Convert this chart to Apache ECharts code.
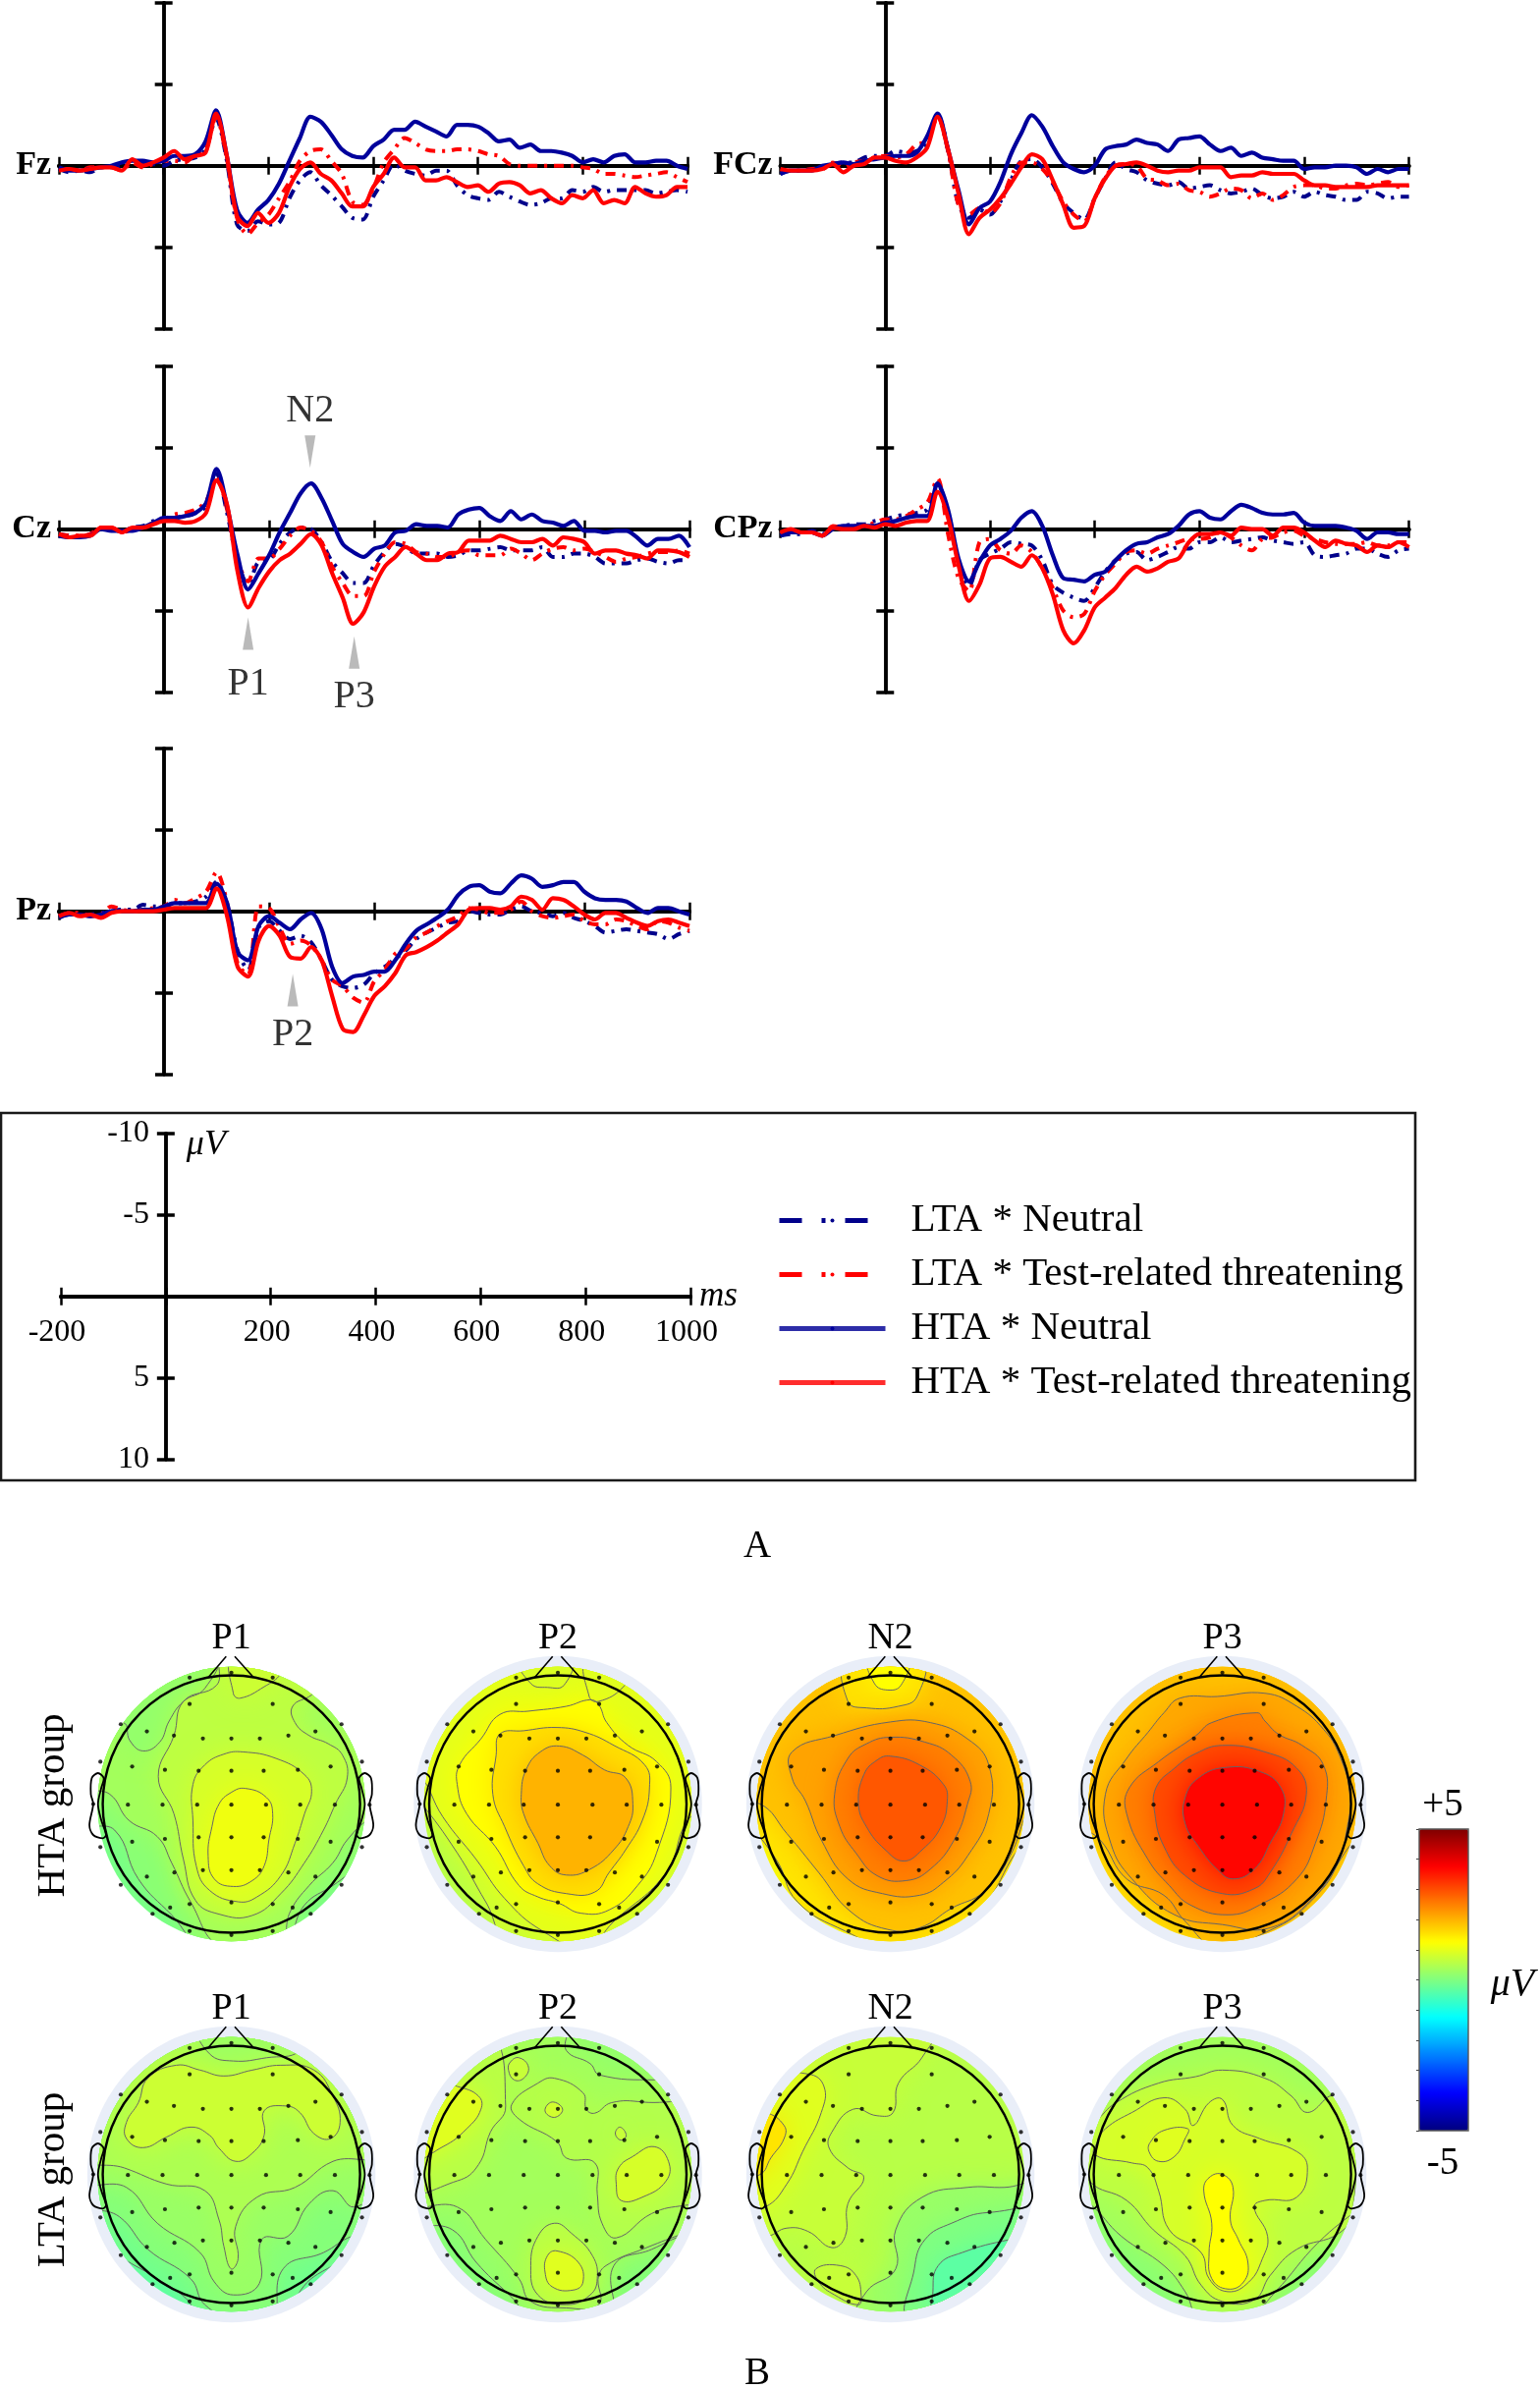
<!DOCTYPE html>
<html>
<head>
<meta charset="utf-8">
<style>html,body{margin:0;padding:0;background:#fff}#main{width:1568px;height:2432px}</style>
<script src="https://cdn.jsdelivr.net/npm/echarts@6/dist/echarts.min.js"></script>
</head>
<body>
<div id="main"></div>
<script>
// ERP waveforms, uV, one value every 20 ms (negative is up)
var times = [-200,-180,-160,-140,-120,-100,-80,-60,-40,-20,
  0,20,40,60,80,100,120,140,160,180,
  200,220,240,260,280,300,320,340,360,380,
  400,420,440,460,480,500,520,540,560,580,
  600,620,640,660,680,700,720,740,760,780,
  800,820,840,860,880,900,920,940,960,980,
  1000];

var fzLtaNeutral = [0.2,0.4,0.3,0.4,0.1,0.1,0,-0.2,-0.2,-0.1,
  0,-0.3,-0.4,-0.5,-1.0,-2.9,-0.4,3.6,4.0,3.4,
  3.6,3.5,2.0,0.9,0.4,1.2,1.8,2.5,3.2,3.3,
  1.9,0.9,-0.1,0.3,0.5,0.6,0.3,0.3,1.2,1.8,
  2.0,2.1,1.6,1.9,2.2,2.4,2.3,2.0,2.0,1.5,
  1.6,1.3,1.6,1.5,1.5,1.5,1.5,1.7,1.6,1.5,
  1.6];
var fzLtaThreat = [0.2,0.2,0.3,0.1,0.1,0.1,0.3,-0.2,0.1,-0.1,
  -0.3,-0.3,-0.2,-0.7,-1.0,-3.0,-0.5,3.2,4.2,3.5,
  3.0,2.0,1.0,-0.3,-0.9,-1.0,-0.3,0.5,2.2,2.4,
  1.4,-0.2,-1.0,-1.7,-1.4,-1.0,-0.9,-0.9,-1.0,-1.0,
  -0.9,-0.7,-0.6,-0.1,0,0,0,0,0,0,
  0.1,0.2,0.5,0.5,0.6,0.7,0.6,0.5,0.4,0.7,
  1.0];
var fzHtaNeutral = [0.1,0.3,0.3,0.2,0.1,0,-0.2,-0.3,-0.3,-0.2,
  -0.3,-0.6,-0.6,-0.7,-1.5,-3.4,-0.7,2.7,3.5,2.7,
  2.1,1.1,-0.3,-1.7,-3.0,-2.7,-1.9,-1.0,-0.6,-0.5,
  -1.2,-1.6,-2.2,-2.2,-2.7,-2.4,-2.1,-1.8,-2.5,-2.5,
  -2.4,-2.0,-1.5,-1.6,-1.1,-1.3,-0.9,-0.9,-0.8,-0.6,
  -0.2,-0.4,-0.2,-0.6,-0.7,-0.2,-0.2,-0.3,-0.3,0,
  0.2];
var fzHtaThreat = [0.3,0.2,0.3,0.2,0.1,0.1,0.3,-0.4,0,-0.2,
  -0.5,-0.9,-0.4,-0.6,-0.8,-3.2,-0.7,3.1,3.7,2.9,
  3.5,2.9,1.3,0.2,-0.2,0.5,0.9,1.7,2.5,2.5,
  1.3,0.5,-0.5,0.1,0.1,0.9,0.9,0.7,1.0,1.3,
  1.2,1.6,1.1,1.0,1.2,1.7,1.5,2.0,2.3,1.8,
  2.0,1.5,2.3,2.1,2.3,1.3,1.7,1.9,1.8,1.3,
  1.3];

var fczLtaNeutral = [0.5,0.3,0.3,0.2,0.1,-0.1,-0.2,-0.2,-0.5,-0.6,
  -0.6,-0.9,-0.8,-0.9,-1.4,-3.1,-1.0,2.4,3.2,2.7,
  3.0,2.2,0.9,-0.3,-0.4,0.1,1.1,2.3,2.9,3.3,
  2.0,0.8,-0.2,0.2,0.4,0.9,1.1,1.2,1.0,1.4,
  1.3,1.2,1.5,1.7,1.6,1.4,1.8,2.0,1.9,1.6,
  1.9,1.6,1.8,1.9,2.1,2.1,1.6,1.7,2.0,1.9,
  1.9];
var fczLtaThreat = [0.3,0.3,0.3,0.2,0.2,-0.2,0.1,-0.2,-0.3,-0.5,
  -0.6,-0.5,-0.7,-1.3,-1.5,-3.0,-0.9,2.4,3.0,2.6,
  2.9,2.3,0.7,-0.2,-0.2,0.2,1.0,2.2,3.0,3.4,
  2.0,0.7,0,-0.1,0,0.8,0.9,1.2,1.1,1.5,
  1.6,1.9,1.7,1.4,1.5,2.0,1.7,2.1,1.8,1.3,
  1.2,1.2,1.4,1.4,1.2,1.1,1.2,1.1,1.0,1.3,
  1.2];
var fczHtaNeutral = [0.5,0.3,0.3,0.3,0,-0.1,-0.2,-0.1,-0.3,-0.4,
  -0.5,-0.6,-0.6,-0.8,-1.8,-3.2,-1.0,1.5,3.6,2.6,
  2.2,1.0,-0.7,-2.0,-3.1,-2.4,-1.2,-0.2,0.2,0.4,
  0,-1.0,-1.2,-1.3,-1.6,-1.4,-1.3,-0.9,-1.6,-1.7,
  -1.8,-1.3,-0.9,-1.1,-0.6,-0.8,-0.5,-0.4,-0.3,-0.3,
  0.2,0.1,0.1,0,0,0.1,0.5,0.2,0.4,0.2,
  0.2];
var fczHtaThreat = [0.2,0.3,0.3,0.3,0.2,-0.1,0.4,0,-0.1,-0.5,
  -0.5,-0.3,-0.2,-0.5,-1.1,-3.0,-1.0,1.7,4.2,3.2,
  2.7,2.0,1.1,0.1,-0.7,-0.4,0.9,2.4,3.8,3.7,
  2.0,0.8,0,-0.1,-0.2,0,0.3,0.4,0.3,0.3,
  0.1,0.1,0.1,0.7,0.6,0.6,0.4,0.5,0.5,0.5,
  0.9,1.2,1.2,1.3,1.3,1.3,1.3,1.2,1.2,1.2,
  1.2];

var czLtaNeutral = [0.3,0.4,0.5,0.3,0,0,0.1,-0.1,-0.2,-0.5,
  -0.6,-0.7,-0.8,-1.0,-1.4,-3.4,-1.0,2.0,3.4,2.0,
  1.9,0.9,0.2,-0.1,0,0.8,2.0,2.7,3.3,3.3,
  2.2,1.4,0.9,1.1,1.5,1.5,1.5,1.7,1.6,1.3,
  1.3,1.2,1.1,1.3,1.3,1.3,1.1,1.7,1.7,1.5,
  1.5,1.7,2.1,2.1,2.1,1.9,1.8,2.0,2.1,1.9,
  1.9];
var czLtaThreat = [0.3,0.4,0.4,0.3,-0.1,-0.1,0.2,0,-0.1,-0.4,
  -0.6,-0.9,-1.0,-1.2,-1.7,-3.2,-1.2,1.9,3.2,1.8,
  1.8,1.2,0.4,-0.1,0.1,0.8,2.3,3.3,4.1,4.1,
  2.6,1.5,0.8,0.9,1.4,1.5,1.7,1.7,1.4,1.3,
  1.6,1.6,1.6,1.2,1.5,1.9,1.5,1.2,1.1,1.3,
  1.2,1.4,1.7,2.0,1.8,1.7,1.5,1.4,1.4,1.3,
  1.5];
var czHtaNeutral = [0.4,0.5,0.5,0.4,0,0.1,0.1,0.1,-0.1,-0.4,
  -0.7,-0.7,-0.8,-1.0,-1.6,-3.7,-1.4,1.6,3.7,2.7,
  1.6,0.2,-1.0,-2.2,-2.8,-1.9,-0.5,0.9,1.4,1.7,
  1.2,1.0,0.2,0.1,-0.3,-0.2,-0.2,-0.1,-0.9,-1.2,
  -1.3,-0.8,-0.5,-1.1,-0.6,-0.9,-0.5,-0.4,-0.2,-0.5,
  0.1,0.1,0.2,0.1,0.1,0.5,1.0,0.6,0.6,0.4,
  1.1];
var czHtaThreat = [0.3,0.5,0.4,0.4,-0.1,-0.1,0.2,-0.1,-0.1,-0.3,
  -0.5,-0.5,-0.4,-0.5,-1.0,-3.0,-1.5,2.6,4.8,3.6,
  2.6,1.9,1.5,0.9,0.3,1.0,2.7,4.2,5.8,5.1,
  3.5,2.3,1.7,1.1,1.5,1.9,1.9,1.5,1.4,0.7,
  0.7,0.7,0.4,0.6,0.8,0.8,0.6,1.0,0.5,0.6,
  0.8,1.5,1.3,1.3,1.5,1.6,1.8,1.3,1.3,1.4,
  1.7];

var cpzLtaNeutral = [0.4,0.3,0.3,0.1,0.3,-0.1,-0.2,-0.3,-0.3,-0.5,
  -0.6,-0.8,-0.9,-1.0,-1.2,-2.8,-0.9,2.0,3.5,1.9,
  1.5,1.2,0.8,0.9,1.0,1.9,3.4,3.9,4.2,4.4,
  3.6,2.6,1.9,1.5,1.4,1.9,1.7,1.4,1.1,1.2,
  0.8,0.8,0.5,0.8,0.7,0.6,0.5,0.7,0.8,0.9,
  0.8,1.6,1.7,1.6,1.5,1.2,1.2,1.5,1.7,1.3,
  1.2];
var cpzLtaThreat = [0.3,0.1,0.2,0.2,0.4,-0.2,-0.1,-0.2,-0.2,-0.4,
  -0.6,-0.6,-0.8,-1.2,-1.6,-3.1,0.3,3.0,3.8,0.8,
  0.6,1.3,1.5,1.0,1.4,2.4,3.6,5.0,5.4,5.2,
  3.8,2.8,2.1,1.4,1.3,1.5,1.2,1.0,0.8,0.6,
  0.6,0.5,0.2,0.5,1.0,1.3,0.6,0.5,0.2,0.1,
  0.4,0.6,0.8,0.9,0.9,0.9,0.8,1.0,1.0,0.8,
  0.8];
var cpzHtaNeutral = [0.4,0.2,0.2,0.2,0.4,0,-0.2,-0.2,-0.2,-0.2,
  -0.4,-0.5,-0.7,-0.8,-0.8,-2.8,-1.2,1.8,3.2,2.0,
  1.0,0.6,0.1,-0.7,-1.1,-0.2,1.6,3.0,3.1,3.2,
  2.8,2.6,1.9,1.3,0.9,0.8,0.5,0.3,-0.2,-0.9,
  -1.1,-0.7,-0.6,-1.1,-1.5,-1.3,-1.0,-0.9,-0.9,-1.0,
  -0.4,-0.2,-0.2,-0.2,-0.1,0.1,0.6,0.2,0.2,0.3,
  0.3];
var cpzHtaThreat = [0.2,0,0.2,0.2,0.4,-0.1,0,0,-0.2,-0.1,
  -0.3,-0.2,-0.4,-0.5,-0.5,-2.3,-0.7,2.2,4.4,3.4,
  1.8,1.7,2.0,2.3,1.6,2.4,4.0,6.2,7.0,6.2,
  4.8,4.2,3.6,2.8,2.3,2.6,2.4,2.0,1.8,0.8,
  0.3,0.3,0.2,0.4,-0.1,0,0,0.4,-0.1,-0.1,
  0.2,0.7,1.1,0.7,0.9,1.0,1.4,1.0,1.1,0.8,
  1.1];

var pzLtaNeutral = [0.4,0.2,0.2,0.2,0.1,0,-0.1,-0.1,-0.4,-0.3,
  -0.3,-0.5,-0.5,-0.6,-0.9,-1.8,-0.4,2.4,3.6,1.0,
  0.6,1.2,1.7,1.5,1.9,3.0,4.2,4.6,4.7,4.5,
  3.8,3.4,2.9,2.4,1.7,1.3,1.0,0.7,0.6,0,
  0.1,0.2,0.2,-0.1,-0.3,0,0.1,0.3,0.1,0.4,
  0.6,0.9,1.3,1.2,1.1,1.2,1.3,1.4,1.7,1.4,
  1.2];
var pzLtaThreat = [0.3,0.1,0.1,0.3,0.2,-0.3,-0.1,0,-0.1,-0.2,
  -0.3,-0.7,-0.5,-0.8,-1.2,-2.4,-0.5,3.2,3.9,-0.3,
  -0.2,1.0,2.0,1.8,2.1,3.0,4.2,4.6,5.3,5.6,
  4.3,3.6,2.6,2.3,1.6,1.3,0.9,0.6,0.3,-0.2,
  -0.1,0.1,0.1,-0.1,-0.6,0,0.3,0.4,0.3,0.2,
  0.6,0.8,0.8,0.5,0.6,0.9,1.1,0.6,0.7,1.0,
  1.2];
var pzHtaNeutral = [0.3,0.2,0.2,0.3,0.2,0,0,0,-0.1,-0.1,
  -0.3,-0.5,-0.5,-0.5,-0.5,-1.7,-0.5,2.5,3.0,0.9,
  0.3,0.7,1.1,0.5,0.1,1.1,3.4,4.4,4.0,3.9,
  3.7,3.7,3.0,2.0,1.2,0.8,0.4,-0.1,-1.0,-1.5,
  -1.6,-1.2,-1.1,-1.7,-2.2,-2.0,-1.5,-1.6,-1.8,-1.8,
  -1.2,-0.8,-0.7,-0.7,-0.6,-0.2,0.1,-0.2,-0.2,0,
  0.2];
var pzHtaThreat = [0.3,0.1,0.3,0.2,0.4,0.1,0,0,0,0,
  -0.1,-0.2,-0.2,-0.2,-0.2,-1.4,0.3,3.4,4.0,1.8,
  0.9,1.5,2.8,2.9,2.2,3.0,5.2,7.2,7.4,6.4,
  5.2,4.6,3.8,2.7,2.5,2.2,1.8,1.3,0.8,-0.1,
  -0.2,-0.2,-0.1,-0.3,-0.9,-0.7,-0.1,-0.8,-0.7,-0.3,
  0.2,0.5,0.1,0.1,0.4,0.7,0.9,0.6,0.5,0.7,
  0.9];

// component arrows on Cz and Pz: [ms, uV]
var czMarkers = [['N2',278,-4.76],['P1',160,6.4],['P3',362,7.56]];
var pzMarkers = [['P2',245,4.84]];

var legendNames = ['LTA * Neutral','LTA * Test-related threatening','HTA * Neutral','HTA * Test-related threatening'];

// topographies: each contour is [level in uV, x,y, x,y, ...]
var electrodes = [[398,262],[486,247],[573,262],[398,343],[573,343],[253,405],[718,405],[308,427],[663,427],
  [365,440],[606,440],[426,449],[486,449],[546,449],[210,520],[761,520],[277,535],[695,535],
  [346,545],[417,548],[486,548],[554,548],[626,545],[195,650],[268,652],[341,652],[414,652],[486,652],[559,652],[631,652],[704,652],[777,652],
  [346,757],[417,752],[486,752],[554,752],[626,757],[277,766],[695,766],[210,782],[761,782],
  [366,860],[606,860],[426,853],[546,853],[486,853],[308,873],[663,873],[253,898],[718,898],
  [398,957],[486,952],[573,957],[357,968],[615,968],[320,987],[653,987],[398,1040],[486,1052],[573,1040]];
var earOutline = [[205,555],[217,570],[212,600],[205,650],[212,700],[222,745],[215,755],[195,745],[187,715],[195,650],[190,620],[192,570]];
var noseLines = [[437,262],[475,197],[493,197],[533,262]];

var htaP1 = [
  [0.1, 170,700,240,730,290,880,360,990,430,1090,590,1090,640,960,700,900,760,840,820,800,820,200,170,200],
  [0.35, 170,590,230,620,270,700,330,750,360,830,400,950,465,1090,585,1090,610,980,650,900,700,830,730,760,780,690,820,660,820,200,170,200],
  [0.2, 452,200,430,295,385,335,355,395,335,460,300,487,272,455,258,400,150,400,200,200],
  [0.6, 470,200,455,285,385,335,365,440,332,565,365,680,385,820,410,945,460,988,530,992,590,925,640,830,680,730,705,650,730,570,720,500,690,465,650,440,620,400,615,350,655,315,720,230,700,200],
  [0.75, 490,200,490,310,505,325,555,290,590,250,600,200],
  [0.85, 510,490,580,510,640,560,655,610,640,680,620,770,590,870,540,935,500,950,440,915,412,840,405,700,405,590,430,530,470,497],
  [1.1, 515,602,560,630,573,680,565,760,555,840,530,885,490,903,450,880,437,810,445,720,460,650,485,615]
];
var htaP2 = [
  [0.75, 850,600,880,640,960,800,1020,950,1080,1090,1350,1090,1440,850,1500,750,1500,200,850,200],
  [1.0, 850,560,880,560,930,690,1000,820,1060,940,1140,1040,1230,1090,1290,1010,1400,860,1445,700,1500,640,1500,200,850,200],
  [0.9, 1090,200,1115,280,1150,292,1185,285,1200,200],
  [0.95, 1235,200,1238,320,1258,335,1310,290,1345,200],
  [1.25, 1240,330,1190,350,1110,365,1050,375,1010,450,965,530,960,590,980,680,1040,780,1090,900,1130,935,1175,955,1220,985,1280,975,1340,900,1380,800,1410,600,1380,520,1320,470,1275,400,1258,345],
  [1.55, 1050,435,1100,425,1170,415,1230,430,1290,470,1355,530,1365,600,1350,700,1315,790,1280,860,1250,920,1190,925,1130,895,1100,840,1060,720,1035,620,1042,500],
  [2.0, 1175,472,1225,500,1270,545,1315,570,1330,650,1320,720,1290,790,1240,850,1190,868,1155,840,1130,770,1100,680,1095,620,1105,545,1135,490]
];
var htaN2 = [
  [1.5, 40,710,70,710,130,820,170,950,260,1040,345,1090,430,1070,520,960,590,780,650,700,650,200,40,200],
  [1.85, 40,650,100,650,150,740,210,860,270,980,340,1035,400,1030,460,970,520,920,570,810,610,650,650,600,650,200,40,200],
  [1.55, 265,200,265,335,300,355,360,350,395,320,403,200],
  [1.25, 305,200,315,280,340,300,365,285,378,200],
  [2.15, 160,490,240,440,345,398,420,400,490,450,530,530,530,680,490,810,445,890,400,930,330,925,265,880,215,760,185,640,160,570],
  [2.5, 345,445,410,460,460,500,495,580,490,650,465,760,420,850,375,885,320,870,280,800,250,720,240,620,265,510,300,465],
  [2.9, 345,503,400,530,445,590,452,640,440,720,405,790,370,825,335,790,300,720,285,650,295,560,320,515]
];
var htaP3 = [
  [1.85, 680,680,740,760,790,880,860,930,900,1010,960,1090,1050,1045,1130,960,1200,800,1250,660,1250,200,680,200],
  [2.1, 890,325,960,320,1050,310,1110,350,1160,420,1190,500,1210,620,1205,720,1185,840,1140,940,1060,1030,970,1020,880,990,800,880,760,770,750,620,790,510,830,430,860,370],
  [2.5, 1035,370,1050,395,1075,435,1120,470,1160,530,1165,640,1145,770,1110,880,1040,960,980,990,910,960,870,900,830,820,790,680,795,600,850,520,920,440,950,400],
  [3.0, 970,470,1050,490,1110,540,1128,620,1100,740,1060,860,1030,910,970,925,900,870,860,780,843,680,845,600,880,540,920,495],
  [3.7, 975,538,1040,550,1080,600,1085,680,1060,770,1030,850,990,880,960,850,925,780,900,710,900,630,925,570]
];
var ltaP1 = [
  [-0.15, 170,790,240,880,330,960,390,1020,430,1090,620,1090,630,1000,700,920,790,870,810,180,170,180],
  [0.05, 170,715,250,770,310,870,400,960,430,1040,500,1090,570,1090,595,930,680,880,740,830,810,810,810,180,170,180],
  [0.25, 170,650,265,680,330,790,420,880,450,970,490,1010,545,975,550,840,605,830,650,730,700,690,745,740,800,660,800,180,170,180],
  [0.45, 170,580,260,620,350,670,430,690,460,780,470,860,485,930,500,900,495,800,540,710,620,680,700,600,800,570,800,180,170,180],
  [0.3, 420,190,440,270,490,292,560,282,630,262,650,190],
  [0.75, 310,345,370,305,420,320,470,338,530,320,590,305,660,320,700,400,715,480,695,530,660,515,630,450,600,430,555,445,555,520,530,575,495,600,460,560,440,520,400,495,350,525,300,558,265,530,265,480,290,420]
];
var ltaP2 = [
  [0.2, 850,770,950,810,1000,910,1070,1010,1130,1090,1280,1090,1290,920,1370,870,1430,830,1500,800,1500,190,850,190],
  [0.35, 850,720,960,740,1020,840,1090,960,1115,1030,1190,1050,1258,1040,1258,950,1285,910,1350,870,1430,825,1500,790,1500,340,1380,350,1260,335,1240,300,1190,260,1185,190,850,190],
  [0.5, 1075,425,1130,360,1165,345,1225,390,1232,440,1250,452,1285,420,1350,418,1500,450,1500,730,1440,735,1370,760,1295,835,1265,790,1255,700,1250,605,1190,590,1170,540,1090,470],
  [0.55, 1020,190,1062,430,1030,510,1005,610,960,660,850,680,850,190],
  [0.95, 850,330,960,370,1005,400,1010,440,980,500,930,555,850,600],
  [0.85, 1375,555,1405,600,1400,660,1350,710,1305,720,1295,670,1300,620,1330,585],
  [0.7, 1090,282,1110,310,1100,345,1080,350,1068,320,1072,295],
  [0.8, 1160,418,1182,440,1165,465,1145,445],
  [0.7, 1303,495,1316,520,1305,535,1293,515],
  [0.55, 1165,790,1200,820,1245,890,1255,960,1240,1010,1190,1040,1130,1010,1115,920,1130,830],
  [0.95, 1170,875,1215,910,1225,970,1205,995,1160,985,1145,940,1150,890]
];
var ltaN2 = [
  [0.25, 650,670,560,680,490,680,405,710,355,810,355,930,300,1000,285,1090,650,1090],
  [0, 650,770,530,757,460,790,410,840,390,930,385,1090,650,1090],
  [-0.35, 650,820,570,840,480,880,435,920,425,1000,430,1090,650,1090],
  [0.7, 425,190,405,280,360,360,350,450,320,460,275,440,235,510,230,560,265,620,295,650,265,730,260,830,235,865,190,815,150,805,115,830,40,850,40,190],
  [0.95, 40,330,190,332,220,370,215,450,180,570,150,670,110,740,40,770],
  [1.5, 40,440,110,450,145,490,145,530,120,590,100,640,40,660],
  [0.7, 205,930,250,920,280,950,290,1010,285,1040,240,1010,210,970]
];
var ltaP3 = [
  [0.35, 680,700,720,730,780,830,860,920,900,1000,930,1090,1010,1090,1070,1000,1150,850,1230,740,1260,700,1260,190,680,190],
  [0.6, 690,530,720,660,790,720,840,810,900,890,930,980,970,1030,1030,1025,1060,950,1110,870,1190,820,1215,750,1215,500,1180,400,1130,450,1100,400,1050,345,970,320,920,340,850,360,770,420,730,480],
  [0.85, 730,580,800,605,830,620,850,690,870,810,930,880,945,960,980,1000,1020,970,1045,900,1055,830,1030,740,1050,720,1110,710,1130,620,1110,570,1040,530,990,490,970,410,945,420,915,490,900,440,860,405,800,450,750,500,735,540],
  [0.95, 835,540,860,505,905,500,900,530,880,585,850,600,832,570],
  [1.25, 970,640,990,680,985,780,1000,840,1018,910,1010,970,980,992,950,960,945,880,950,790,935,690,945,650]
];

var mapTitles = ['P1','P2','N2','P3'];
var mapContours = [htaP1,htaP2,htaN2,htaP3,ltaP1,ltaP2,ltaN2,ltaP3];
var mapBase = [-0.1,0.55,1.15,1.5,-0.4,0.05,0.55,0.1];
var mapHalo = [false,true,true,true,true,true,true,true];
var mapX = [235.6,568,906.6,1244.6];
var mapY = [1836.5,2213.5];
// how the contour readings map onto head units (radius 100): cx, cy, rx, ry
var readScale = [[486,650,271,395],[1172,650,271,395],[345,650,242,395],[970,650,242,395],
  [486,640,271,395],[1172,640,271,395],[345,640,242,395],[970,640,242,395]];

var jet = ['#00007f','#0000ff','#00ffff','#ffff00','#ff0000','#7f0000'];
var jetStops = function (v) {
  // jet: navy, blue at 1/8, cyan 3/8, yellow 5/8, red 7/8, dark red
  var f = (v + 5) / 10;
  var s = [0,0.125,0.375,0.625,0.875,1];
  for (var i = 0; i < 5; i++) {
    if (f <= s[i + 1]) return echarts.color.lerp((f - s[i]) / (s[i + 1] - s[i]), [jet[i], jet[i + 1]]);
  }
  return jet[5];
};
var jetRamp = [];
[-5,-3.75,-2.5,-1.25,0,1.25,2.5,3.75,5].forEach(function (v) { jetRamp.push(jetStops(v)); });

var serif = '"Liberation Serif","Times New Roman",serif';
var option = {animation:false, backgroundColor:'#fff', grid:[], xAxis:[], yAxis:[], series:[], graphic:[]};

function addAxes(left, top, width, labels) {
  var gi = option.grid.length;
  var xi = option.xAxis.length, yi = option.yAxis.length;
  option.grid.push({left:left, top:top, width:width, height:332, containLabel:false});
  [false, true].forEach(function (inner) {
    option.xAxis.push({
      type:'value', gridIndex:gi, min:-200, max:1000, interval:200, position:'bottom',
      name: inner ? '' : labels.name, nameLocation:labels.ms ? 'end' : 'start', nameGap:labels.ms ? 9 : 8,
      nameTextStyle:{color:'#000', fontFamily:serif, fontSize:labels.ms ? 35 : 34, fontWeight:labels.ms ? 'normal' : 'bold', fontStyle:labels.ms ? 'italic' : 'normal', padding:[5,0,0,0]},
      axisLine:{onZero:true, onZeroAxisIndex:yi, lineStyle:{color:'#000', width:4}},
      axisTick:{show:true, inside:inner, length:9, lineStyle:{color:'#000', width:2.5}},
      // labels sit on the grid edge, the negative margin brings them back to the zero line
      axisLabel:{show:!!labels.ms && !inner, margin:-145, color:'#000', fontFamily:serif, fontSize:32, padding:[0,8,0,0],
        formatter:function (v) { return v === 0 ? '' : v; }},
      splitLine:{show:false}
    });
    option.yAxis.push({
      type:'value', gridIndex:gi, min:-10, max:10, interval:5, inverse:true, position:'left',
      name: (labels.ms && !inner) ? 'μV' : '', nameLocation:'start', nameGap:-2,
      nameTextStyle:{color:'#000', fontFamily:serif, fontSize:36, fontStyle:'italic', align:'left', padding:[0,0,-28,21]},
      axisLine:{onZero:true, onZeroAxisIndex:xi, lineStyle:{color:'#000', width:3.5}},
      axisTick:{show:true, inside:inner, length:9, lineStyle:{color:'#000', width:3.5}},
      axisLabel:{show:!!labels.ms && !inner, margin:-90, color:'#000', fontFamily:serif, fontSize:32, padding:[5,0,0,0],
        formatter:function (v) { return v === 0 ? '' : v; }},
      splitLine:{show:false}
    });
  });
  return {x:xi, y:yi};
}

var markerGap = {N2:5, P1:15, P3:9, P2:9};

function addPanel(name, left, top, width, ltaN, ltaT, htaN, htaT, markers) {
  var a = addAxes(left, top, width, {name:name});
  [[ltaN,'#00008b',true],[ltaT,'#ff0000',true],[htaN,'#00009c',false],[htaT,'#ff0000',false]].forEach(function (s, i) {
    option.series.push({
      name:legendNames[i], type:'line', xAxisIndex:a.x, yAxisIndex:a.y, symbol:'none', smooth:0.3,
      data:times.map(function (t, k) { return [t, s[0][k]]; }),
      lineStyle:{color:s[1], width:s[2] ? 4 : 4.2, type:s[2] ? [10,7,3,7] : 'solid'}, itemStyle:{color:s[1]}
    });
  });
  if (markers) {
    option.series.push({
      type:'scatter', xAxisIndex:a.x, yAxisIndex:a.y, symbol:'triangle', symbolSize:[11,33], z:5,
      itemStyle:{color:'#a9a9a9'},
      data:markers.map(function (m) {
        var up = m[0] === 'N2';
        return {name:m[0], value:[m[1], m[2]], symbolRotate:up ? 180 : 0,
          label:{show:true, formatter:'{b}', position:up ? 'top' : 'bottom', distance:markerGap[m[0]], color:'#000', fontFamily:serif, fontSize:40}};
      })
    });
  }
}

addPanel('Fz', 60, 2.7, 640, fzLtaNeutral, fzLtaThreat, fzHtaNeutral, fzHtaThreat);
addPanel('FCz', 794.6, 2.7, 640, fczLtaNeutral, fczLtaThreat, fczHtaNeutral, fczHtaThreat);
addPanel('Cz', 60, 372.7, 642, czLtaNeutral, czLtaThreat, czHtaNeutral, czHtaThreat, czMarkers);
addPanel('CPz', 794.6, 372.7, 640, cpzLtaNeutral, cpzLtaThreat, cpzHtaNeutral, cpzHtaThreat);
addPanel('Pz', 60, 761.7, 642, pzLtaNeutral, pzLtaThreat, pzHtaNeutral, pzHtaThreat, pzMarkers);
addAxes(62, 1153.7, 641, {name:'ms', ms:true});

option.legend = {
  left:791, top:1222, orient:'vertical', itemWidth:108, itemHeight:5, itemGap:14, selectedMode:false, padding:0,
  textStyle:{color:'#000', fontFamily:serif, fontSize:41, padding:[0,0,0,21]},
  data:[
    {name:legendNames[0], lineStyle:{color:'#00008b', width:5, type:[23,20,4,20]}},
    {name:legendNames[1], lineStyle:{color:'#ff0000', width:5, type:[23,20,4,20]}},
    {name:legendNames[2], lineStyle:{color:'#2d2da8', width:5, type:'solid'}},
    {name:legendNames[3], lineStyle:{color:'#ff2d2d', width:5, type:'solid'}}
  ]
};

// topographic maps
function headUnits(p, sc) { return [(p[0] - sc[0]) / sc[2] * 100, (sc[1] - p[1]) / sc[3] * 100]; }

mapContours.forEach(function (contours, m) {
  var cx = mapX[m % 4], cy = mapY[m < 4 ? 0 : 1];
  var gi = option.grid.length, xi = option.xAxis.length, yi = option.yAxis.length;
  var sc = readScale[m];
  var polys = contours.map(function (c) {
    var pts = [];
    for (var i = 1; i < c.length; i += 2) pts.push(headUnits([c[i], c[i + 1]], sc));
    return {level:c[0], pts:pts};
  });
  option.grid.push({left:cx - 154.58, top:cy - 154.58, width:309.16, height:309.16});
  option.xAxis.push({type:'value', gridIndex:gi, min:-118, max:118, show:false});
  option.yAxis.push({type:'value', gridIndex:gi, min:-118, max:118, show:false});
  option.series.push({
    type:'custom', xAxisIndex:xi, yAxisIndex:yi, coordinateSystem:'cartesian2d', clip:false, silent:true,
    data:[[0,0]],
    renderItem:function (params, api) {
      var c = api.coord([0,0]);
      var size = function (rx, ry) { var s = api.size([rx, ry]); return {cx:c[0], cy:c[1], rx:s[0], ry:s[1]}; };
      var oval = size(104, 106.6);
      var kids = [];
      if (mapHalo[m]) kids.push({type:'ellipse', shape:size(112, 115), style:{fill:'#e9eef8'}});
      kids.push({type:'ellipse', shape:oval, style:{fill:jetStops(mapBase[m])}});
      polys.forEach(function (p) {
        var col = jetStops(p.level);
        kids.push({type:'polygon', shape:{points:p.pts.map(api.coord), smooth:0.45},
          clipPath:{type:'ellipse', shape:oval},
          style:{fill:col, stroke:null, shadowColor:col, shadowBlur:30}});
      });
      polys.forEach(function (p) {
        kids.push({type:'polygon', shape:{points:p.pts.map(api.coord), smooth:0.45},
          clipPath:{type:'ellipse', shape:oval},
          style:{fill:null, stroke:'#666', lineWidth:1}});
      });
      kids.push({type:'circle', shape:{cx:c[0], cy:c[1], r:api.size([100,100])[0]}, style:{fill:null, stroke:'#000', lineWidth:2.4}});
      var ear = earOutline.map(function (p) { return headUnits(p, readScale[0]); });
      [1,-1].forEach(function (side) {
        kids.push({type:'polygon', shape:{points:ear.map(function (p) { return api.coord([p[0] * side, p[1]]); }), smooth:0.3},
          style:{fill:null, stroke:'#000', lineWidth:1.8}});
      });
      var nose = noseLines.map(function (p) { return api.coord(headUnits(p, readScale[0])); });
      kids.push({type:'polyline', shape:{points:[nose[0], nose[1]]}, style:{fill:null, stroke:'#000', lineWidth:1.6}});
      kids.push({type:'polyline', shape:{points:[nose[2], nose[3]]}, style:{fill:null, stroke:'#000', lineWidth:1.6}});
      return {type:'group', children:kids};
    }
  });
  option.series.push({
    type:'scatter', xAxisIndex:xi, yAxisIndex:yi, symbolSize:4.2, z:6, silent:true,
    itemStyle:{color:'#000'},
    data:electrodes.map(function (p) { return headUnits(p, readScale[0]); })
  });
});

// colour scale
option.visualMap = {type:'continuous', min:-5, max:5, left:1445, top:1862, itemWidth:50, itemHeight:307, padding:0, z:1,
  seriesIndex:[], calculable:false, hoverLink:false, text:null, showLabel:false, inRange:{color:jetRamp}, textStyle:{color:'transparent'}};
var barGrid = option.grid.length;
option.grid.push({left:1445, top:1862, width:50, height:307});
option.xAxis.push({type:'value', gridIndex:barGrid, show:false, min:0, max:1});
option.yAxis.push({type:'value', gridIndex:barGrid, min:-5, max:5, interval:1, position:'right', z:5,
  axisLine:{show:false}, axisTick:{show:true, inside:true, length:3, lineStyle:{color:'#444', width:1}}, axisLabel:{show:false}, splitLine:{show:false}});

function addText(text, x, y, font, rot) {
  option.graphic.push({type:'text', x:x, y:y, rotation:rot || 0, z:10,
    style:{text:text, fill:'#000', font:font, align:'center', verticalAlign:'middle'}});
}
option.graphic.push({type:'rect', shape:{x:1, y:1133, width:1440, height:374}, z:10, style:{fill:null, stroke:'#1a1a1a', lineWidth:2.6}});
option.graphic.push({type:'rect', shape:{x:1445, y:1862, width:50, height:307}, z:10, style:{fill:null, stroke:'#555', lineWidth:1.4}});
mapTitles.forEach(function (t, i) {
  addText(t, mapX[i], 1668, '38px ' + serif);
  addText(t, mapX[i], 2045, '38px ' + serif);
});
addText('A', 771, 1575, '39px ' + serif);
addText('B', 771, 2417, '39px ' + serif);
addText('HTA group', 54, 1838, '41px ' + serif, Math.PI / 2);
addText('LTA group', 54, 2219, '41px ' + serif, Math.PI / 2);
addText('+5', 1469, 1838, '39px ' + serif);
addText('-5', 1469, 2203, '39px ' + serif);
addText('μV', 1540, 2020, 'italic 40px ' + serif);

var myChart = echarts.init(document.getElementById('main'));
myChart.setOption(option);
</script>
</body>
</html>
